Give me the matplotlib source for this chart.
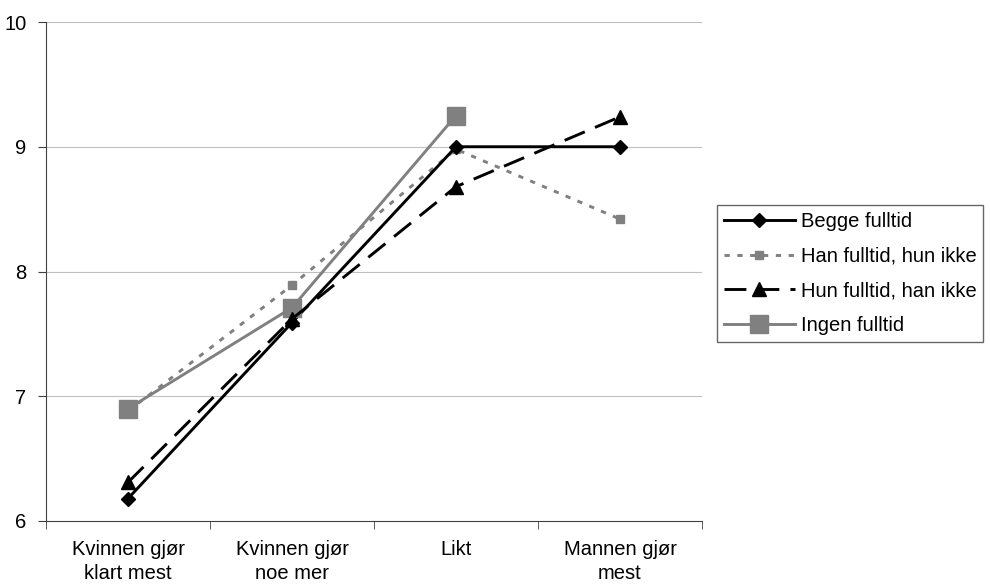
import matplotlib
matplotlib.use("Agg")
import matplotlib.pyplot as plt
import numpy as np

plt.rcParams['font.family'] = ['Liberation Sans', 'DejaVu Sans']

categories = ["Kvinnen gjør\nklart mest", "Kvinnen gjør\nnoe mer", "Likt", "Mannen gjør\nmest"]
begge = [6.18, 7.59, 9.0, 9.0]
han = [6.88, 7.89, 8.98, 8.42]
hun = [6.31, 7.62, 8.68, 9.24]
ingen = [6.90, 7.71, 9.25]
yticks = [6, 7, 8, 9, 10]

fig = plt.figure(figsize=(9.9, 5.85), dpi=100)
ax = fig.add_axes([46/990, (585-521)/585, (702-46)/990, (521-22)/585])

x = np.arange(len(categories))
gray = '#808080'
ax.plot(x, begge, color='black', lw=2.1, marker='D', ms=7.5, label='Begge fulltid', zorder=4)
ax.plot(x, han, color=gray, lw=2.1, ls=(0, (1.8, 2.6)), marker='s', ms=5.5, label='Han fulltid, hun ikke', zorder=3)
ax.plot(x, hun, color='black', lw=2.1, ls=(0, (7.5, 3.8)), marker='^', ms=10.5, label='Hun fulltid, han ikke', zorder=5)
ax.plot(x[:3], ingen, color=gray, lw=2.1, marker='s', ms=13, label='Ingen fulltid', zorder=4)

fs = 14.5
ax.set_xlim(-0.5, 3.5)
ax.set_ylim(6, 10)
ax.set_yticks(yticks)
ax.set_yticklabels([str(t) for t in yticks], fontsize=fs)
ax.set_xticks(x)
ax.set_xticklabels(categories, fontsize=fs, linespacing=1.3)
ax.tick_params(axis='x', length=0, pad=14)
ax.set_xticks([-0.5, 0.5, 1.5, 2.5, 3.5], minor=True)
ax.tick_params(axis='x', which='minor', length=6, direction='out', color='#404040')
ax.tick_params(axis='y', length=6, direction='out', color='#404040', pad=8)
for yv in [7, 8, 9, 10]:
    ax.axhline(yv, color='#c0c0c0', lw=0.8, zorder=0)
ax.spines['top'].set_visible(False)
ax.spines['right'].set_visible(False)
ax.spines['left'].set_color('#404040')
ax.spines['bottom'].set_color('#404040')

leg = ax.legend(loc='upper left', bbox_to_anchor=(717/990, (585-205)/585), bbox_transform=fig.transFigure,
                fontsize=fs, frameon=True, fancybox=False, edgecolor='#404040', handlelength=3.5,
                handletextpad=0.3, borderaxespad=0, labelspacing=0.78, borderpad=0.35)
leg.get_frame().set_linewidth(1)

fig.savefig('out.png', dpi=100)
